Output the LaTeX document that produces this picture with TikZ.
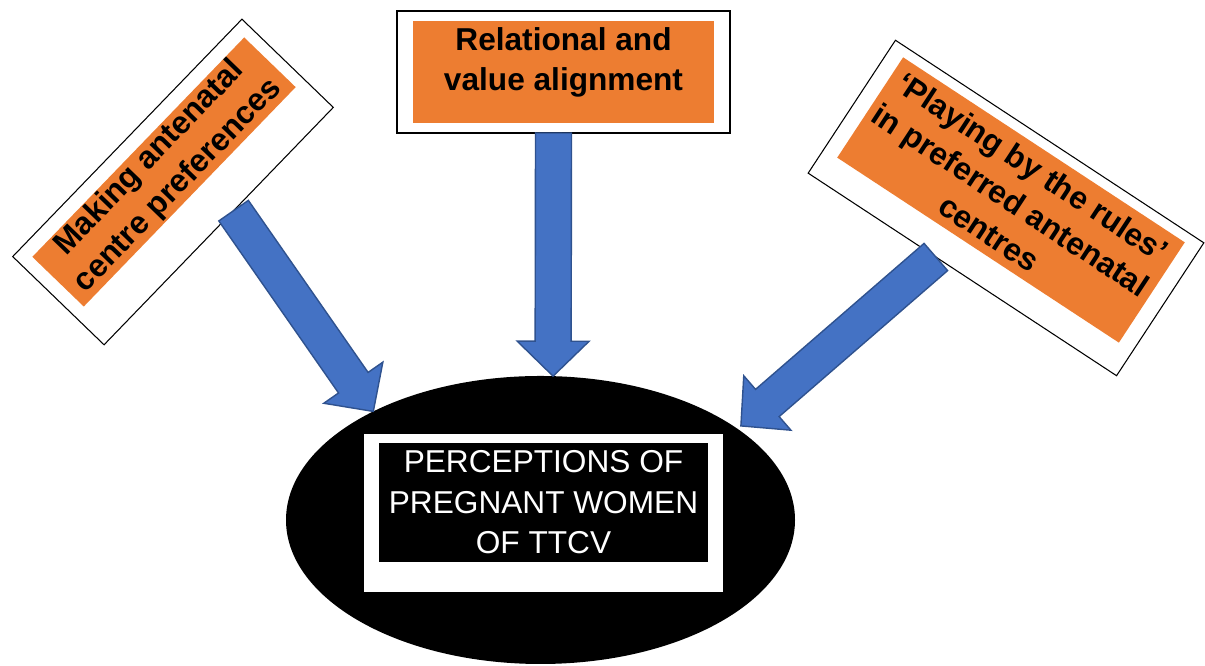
\documentclass[tikz,border=0pt]{standalone}
\usepackage{fontspec}
\setmainfont{Liberation Sans}
\usetikzlibrary{calc,shapes.geometric}
\definecolor{boxorange}{HTML}{ED7D31}
\definecolor{arrowblue}{HTML}{4472C4}
\definecolor{arrowedge}{HTML}{2F528F}

\begin{document}
\begin{tikzpicture}[frame/.style={draw=black,line width=.6pt,fill=white,inner sep=0,outer sep=0},
  patch/.style={fill=boxorange,inner sep=0,outer sep=0,align=center,font=\bfseries\fontsize{18}{22.5}\selectfont},
  blockarrow/.style={fill=arrowblue,draw=arrowedge,line width=.8pt,line join=miter}]
\useasboundingbox(0,0)rectangle(24.1,13.32);
% the three themes
\node[frame,rotate=46,minimum width=6.6cm,minimum height=2.54cm](lb)at(3.46,9.68){};
\node[patch,rotate=46,minimum width=6.1cm,minimum height=1.43cm](lf)at(3.28,9.88){Making antenatal\\centre preferences};
\node[frame,minimum width=6.66cm,minimum height=2.44cm](tb)at(11.27,11.88){};
\node[patch,minimum width=6.02cm,minimum height=2.04cm](tf)at(11.27,11.88){};
\node[patch,fill=none](tt)at(11.27,12.07){Relational and\\value alignment};
\node[frame,rotate=-33.3,minimum width=7.38cm,minimum height=3.18cm](rb)at(20.12,9.16){};
\node[patch,rotate=-33.3,minimum width=6.74cm,minimum height=2.4cm](rf)at(20.22,9.32){‘Playing by the rules’\\in preferred antenatal\\centres};
% central ellipse
\node[ellipse,fill=black,minimum width=10.18cm,minimum height=5.76cm,inner sep=0,outer sep=0](ell)at(10.81,2.92){};
\node[fill=white,minimum width=7.18cm,minimum height=3.16cm,inner sep=0](wr)at(10.87,3.06){};
\node[fill=black,text=white,align=center,font=\fontsize{18}{23}\selectfont,minimum width=6.58cm,minimum height=2.38cm,inner sep=0](br)at(10.87,3.27){PERCEPTIONS OF\\PREGNANT WOMEN\\OF TTCV};
% block arrows
\coordinate(lt)at($(lb.south west)!.565!(lb.south east)$);
\coordinate(mt)at($(tb.south west)!.47!(tb.south east)$);
\coordinate(rt)at($(rb.south west)!.414!(rb.south east)$);
\coordinate(lh)at(ell.147.6);\coordinate(mh)at(ell.85);\coordinate(rh)at($(ell.25)+(.08,.05)$);
\foreach \a/\b in {lt/lh,mt/mh,rt/rh}{
\coordinate(k)at($(\b)!.7cm!(\a)$);
\draw[blockarrow]($(\a)!.36cm!90:(\b)$)--($(k)!.36cm!90:(\b)$)--($(k)!.72cm!90:(\b)$)--(\b)
  --($(k)!.72cm!-90:(\b)$)--($(k)!.36cm!-90:(\b)$)--($(\a)!.36cm!-90:(\b)$)--cycle;}
\end{tikzpicture}
\end{document}
